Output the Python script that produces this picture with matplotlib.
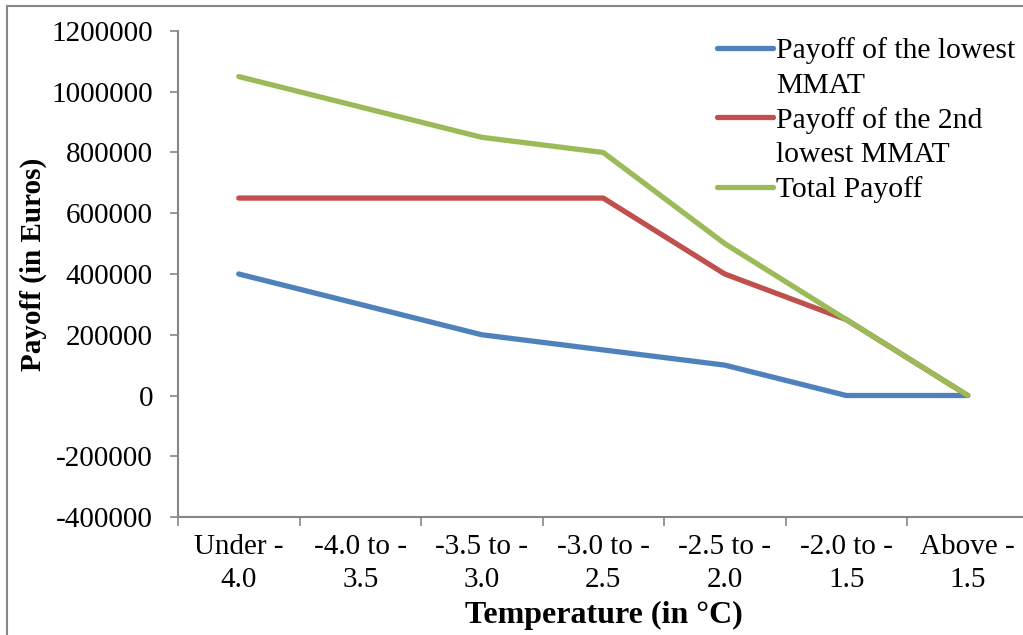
import matplotlib
matplotlib.use("Agg")
import matplotlib.pyplot as plt
from matplotlib.lines import Line2D
from matplotlib.patches import Rectangle
from matplotlib.ticker import FixedLocator, NullFormatter

plt.rcParams['font.family'] = ['Liberation Serif', 'DejaVu Serif']
plt.rcParams['axes.unicode_minus'] = False

categories = ["Under -\n4.0", "-4.0 to -\n3.5", "-3.5 to -\n3.0", "-3.0 to -\n2.5",
              "-2.5 to -\n2.0", "-2.0 to -\n1.5", "Above -\n1.5"]
lowest = [400000, 300000, 200000, 150000, 100000, 0, 0]
second_lowest = [650000, 650000, 650000, 650000, 400000, 250000, 0]
total = [1050000, 950000, 850000, 800000, 500000, 250000, 0]
series_names = ["Payoff of the lowest\nMMAT", "Payoff of the 2nd\nlowest MMAT", "Total Payoff"]
colors = ["#4F81BD", "#C0504D", "#9BBB59"]
y_ticks = [-400000, -200000, 0, 200000, 400000, 600000, 800000, 1000000, 1200000]
y_tick_labels = [str(v) for v in y_ticks]

W, H = 1023, 635
fig = plt.figure(figsize=(W / 100, H / 100), dpi=100)
ax = fig.add_axes([178 / W, (H - 517) / H, (1028.5 - 178) / W, (517 - 31) / H])

x = list(range(len(categories)))
lines = []
for vals, c in zip([lowest, second_lowest, total], colors):
    ln, = ax.plot(x, vals, color=c, lw=3.8, solid_capstyle='round', solid_joinstyle='round')
    lines.append(ln)

ax.set_xlim(-0.5, len(categories) - 0.5)
ax.set_ylim(y_ticks[0], y_ticks[-1])
ax.set_yticks(y_ticks)
ax.set_yticklabels(y_tick_labels)
ax.set_xticks(x)
ax.set_xticklabels(categories, linespacing=1.35)
ax.xaxis.set_minor_locator(FixedLocator([i + 0.5 for i in range(-1, len(categories))]))
ax.xaxis.set_minor_formatter(NullFormatter())

axis_color = "#868686"
for s in ['top', 'right']:
    ax.spines[s].set_visible(False)
for s in ['left', 'bottom']:
    ax.spines[s].set_color(axis_color)
    ax.spines[s].set_linewidth(1.5)

ax.tick_params(axis='y', which='major', direction='out', length=6, width=1.2,
               color=axis_color, labelsize=21, pad=12)
ax.tick_params(axis='x', which='major', length=0, labelsize=21, pad=12)
ax.tick_params(axis='x', which='minor', direction='out', length=6.5, width=1.2, color=axis_color)

ax.set_ylabel("Payoff (in Euros)", fontsize=21, fontweight='bold')
ax.yaxis.set_label_coords((33 - 178) / (1028.5 - 178), (517 - 264.5) / (517 - 31))
ax.set_xlabel("Temperature (in °C)", fontsize=23, fontweight='bold')
ax.xaxis.set_label_coords((603.5 - 178) / (1028.5 - 178), -(615 - 517) / (517 - 31))
ax.xaxis.label.set_va('center')
ax.yaxis.label.set_va('center')

blank = Line2D([], [], color='none')
handles = [lines[0], blank, lines[1], blank, lines[2]]
labels = []
for name in series_names:
    labels.extend(name.split("\n"))
leg = fig.legend(handles, labels, loc='upper left', bbox_to_anchor=(717 / W, 1 - 37 / H),
                 frameon=False, fontsize=21.3, borderpad=0, borderaxespad=0,
                 handlelength=1.9, handletextpad=0.1, labelspacing=0.27)

fig.patches.append(Rectangle((7 / W, -0.1), 2, (H - 6) / H + 0.1, transform=fig.transFigure,
                             fill=False, edgecolor=axis_color, lw=1.5, zorder=-1))

fig.savefig("out.png", dpi=100)
